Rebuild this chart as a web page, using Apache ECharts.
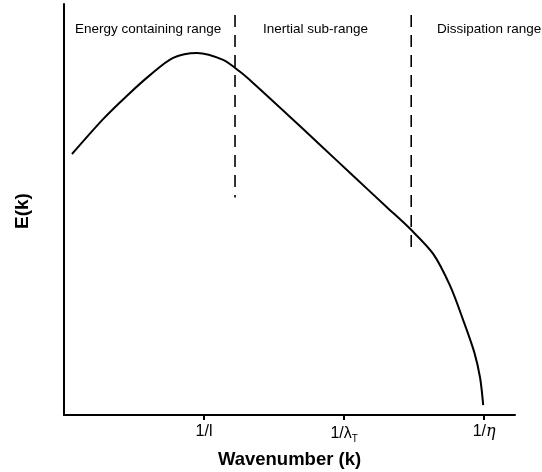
<!DOCTYPE html>
<html>
<head>
<meta charset="utf-8">
<script src="https://cdn.jsdelivr.net/npm/echarts@6/dist/echarts.min.js"></script>
<style>html,body{margin:0;padding:0;background:#fff}#c{width:542px;height:472px}</style>
</head>
<body>
<div id="c"></div>
<script>
// Spectrum curve E(k) (x in tick units: 1 = 1/l, 2 = 1/λT, 3 = 1/η)
const waveK = [0.057, 0.279, 0.45, 0.614, 0.779, 0.95, 1.136, 1.257, 1.35, 1.593, 1.829, 2.064, 2.307, 2.471, 2.636, 2.757, 2.85, 2.929, 2.971, 2.993];
const energyE = [63.5, 72.0, 77.7, 82.7, 86.9, 88.1, 86.4, 83.5, 80.8, 73.2, 65.7, 58.2, 50.5, 45.3, 39.2, 31.4, 23.1, 15.3, 9.0, 2.4];
// Range boundaries (dashed lines)
const boundaryK = [1.221, 2.479];
const boundaryTop = [97.3, 97.3];
const boundaryBottom = [52.9, 40.5];
// Tick positions and labels
const tickValues = [1, 2, 3];
const tickLabels = ['1/l', '{m|1/λ}{s|T}', '1/{i|η}'];
const rangeNames = ['Energy containing range', 'Inertial sub-range', 'Dissipation range'];

const chart = echarts.init(document.getElementById('c'));
const curve = waveK.map((k, i) => [k, energyE[i]]);
const dashSeries = boundaryK.map((k, i) => ({
  type: 'line', data: [[k, boundaryTop[i]], [k, boundaryBottom[i]]],
  symbol: 'none', silent: true,
  lineStyle: { color: '#000', width: 1.6, type: [12, 8] }
}));
const F = 'Liberation Sans';
chart.setOption({
  animation: false,
  backgroundColor: '#fff',
  grid: { left: 64, top: 4, width: 451, height: 411, containLabel: false, outerBoundsMode: 'none' },
  xAxis: {
    type: 'value', min: 0, max: 3.22, splitLine: { show: false },
    axisLine: { lineStyle: { color: '#000', width: 2 } },
    axisTick: { show: true, customValues: tickValues, length: 5, lineStyle: { color: '#000', width: 2 } },
    axisLabel: {
      customValues: tickValues, margin: 9, color: '#000', fontFamily: F, fontSize: 16,
      formatter: v => tickLabels[tickValues.indexOf(v)] || '',
      rich: {
        m: { fontSize: 16, fontFamily: F, color: '#000' },
        s: { fontSize: 10, fontFamily: F, color: '#000', padding: [10, 0, 0, 0] },
        i: { fontSize: 16, fontFamily: 'DejaVu Serif', fontStyle: 'italic', color: '#000' }
      }
    },
    name: 'Wavenumber (k)', nameLocation: 'middle', nameGap: 35,
    nameTextStyle: { color: '#000', fontFamily: F, fontWeight: 'bold', fontSize: 18.5 }
  },
  yAxis: {
    type: 'value', min: 0, max: 100, splitLine: { show: false },
    axisLine: { show: true, lineStyle: { color: '#000', width: 2 } },
    axisTick: { show: false }, axisLabel: { show: false },
    name: 'E(k)', nameLocation: 'middle', nameGap: 32, nameRotate: 90,
    nameTextStyle: { color: '#000', fontFamily: F, fontWeight: 'bold', fontSize: 19, padding: [0, 0, 0, -3] }
  },
  graphic: [
    { type: 'text', left: 75, top: 22, style: { text: rangeNames[0], font: '13.5px "Liberation Sans"', fill: '#000' } },
    { type: 'text', left: 263, top: 22, style: { text: rangeNames[1], font: '13.5px "Liberation Sans"', fill: '#000' } },
    { type: 'text', left: 437, top: 22, style: { text: rangeNames[2], font: '13.5px "Liberation Sans"', fill: '#000' } }
  ],
  series: [
    { type: 'line', data: curve, symbol: 'none', smooth: 0.3, lineStyle: { color: '#000', width: 2 } },
    ...dashSeries
  ]
});
</script>
</body>
</html>
